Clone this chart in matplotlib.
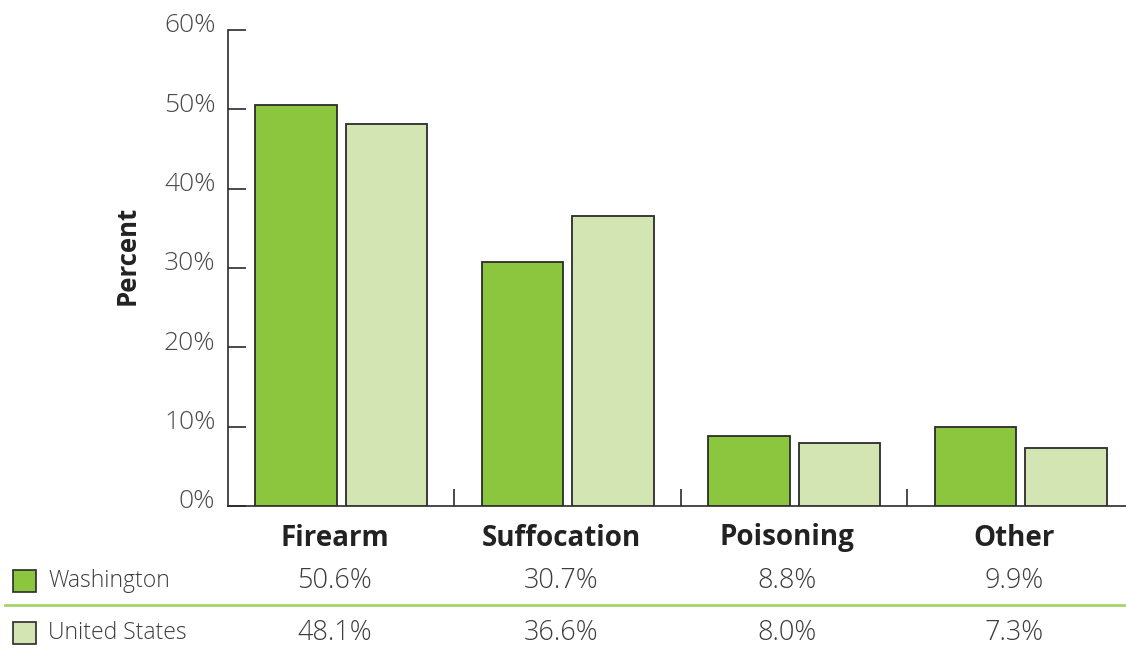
import numpy as np
import matplotlib.pyplot as plt
from matplotlib.lines import Line2D
from matplotlib.patches import Rectangle
import matplotlib.transforms as mtransforms

categories = ['Firearm', 'Suffocation', 'Poisoning', 'Other']
washington = [50.6, 30.7, 8.8, 9.9]
united_states = [48.1, 36.6, 8.0, 7.3]
series_names = ['Washington', 'United States']
yticks = [0, 10, 20, 30, 40, 50, 60]

wa_color = '#8cc63f'
us_color = '#d2e5b3'
edge = '#2b2b2b'
txt = '#3c3c3c'

plt.rcParams['font.family'] = ['Open Sans', 'DejaVu Sans']

fig = plt.figure(figsize=(11.26, 6.48), dpi=100)
ax = fig.add_axes([228 / 1126, 1 - 506 / 648, 1 - 228 / 1126, (506 - 30) / 648])

x = np.arange(len(categories))
w = 0.36
ax.bar(x - 0.2, washington, w, color=wa_color, edgecolor=edge, linewidth=1.3, zorder=3)
ax.bar(x + 0.2, united_states, w, color=us_color, edgecolor=edge, linewidth=1.3, zorder=3)

ax.set_xlim(-0.5, 3.465)
ax.set_ylim(0, 60)
ax.set_yticks(yticks)
ax.set_yticklabels([f'{v}%' for v in yticks], fontsize=19, color='#4a4a4a',
                   fontweight='light')
ax.tick_params(axis='y', direction='in', length=13, width=1.2, color=edge, pad=9)
# labels sit a bit above their ticks
shift = mtransforms.ScaledTranslation(0, 7 / 100, fig.dpi_scale_trans)
for lab in ax.get_yticklabels():
    lab.set_transform(lab.get_transform() + shift)
ax.set_xticks([0.5, 1.5, 2.5])
ax.set_xticklabels([])
ax.tick_params(axis='x', direction='in', length=12, width=1.2, color=edge)

for s in ['top', 'right']:
    ax.spines[s].set_visible(False)
ax.spines['left'].set_color(edge)
ax.spines['bottom'].set_color(edge)
ax.spines['left'].set_linewidth(1.2)
ax.spines['bottom'].set_linewidth(1.2)

fig.text(127 / 1126, 1 - 255 / 648, 'Percent', rotation=90, fontsize=18.5,
         fontweight='bold', color='#222222', ha='center', va='center')

trans = mtransforms.blended_transform_factory(ax.transData, fig.transFigure)
for i, c in enumerate(categories):
    ax.text(i - 0.03, 1 - 538 / 648, c, transform=trans, ha='center', va='center',
            fontsize=20, fontweight='bold', color='#222222')
    ax.text(i - 0.03, 1 - 581 / 648, f'{washington[i]:.1f}%', transform=trans,
            ha='center', va='center', fontsize=19.5, color=txt, fontweight='light')
    ax.text(i - 0.03, 1 - 633 / 648, f'{united_states[i]:.1f}%', transform=trans,
            ha='center', va='center', fontsize=19.5, color=txt, fontweight='light')

# legend rows
for name, col, yy in zip(series_names, [wa_color, us_color], [581, 633]):
    fig.add_artist(Rectangle((13 / 1126, 1 - (yy + 11) / 648), 23 / 1126, 22 / 648,
                             facecolor=col, edgecolor=edge, linewidth=1.2,
                             transform=fig.transFigure))
    fig.text(48 / 1126, 1 - yy / 648, name, fontsize=16.5, color=txt, va='center',
             fontweight='light')

fig.add_artist(Line2D([5 / 1126, 1], [1 - 605 / 648] * 2, color='#a6d46a',
                      linewidth=2, transform=fig.transFigure))

plt.savefig('out.png', dpi=100)
